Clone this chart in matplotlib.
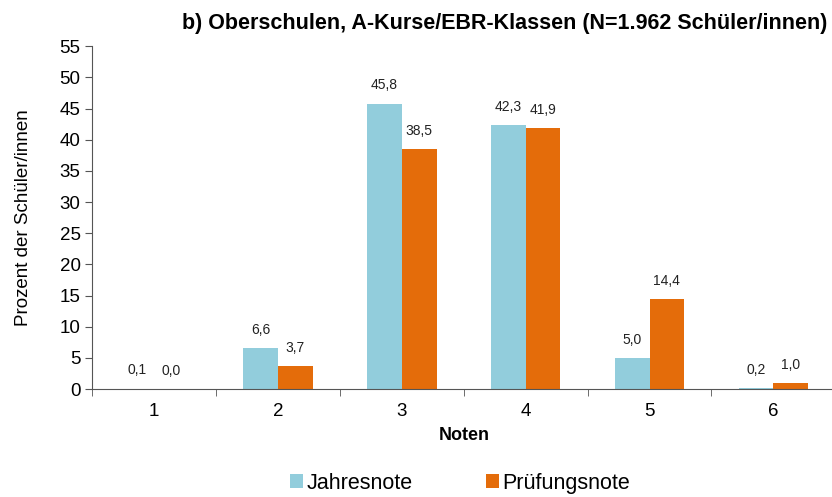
import numpy as np
import matplotlib.pyplot as plt

plt.rcParams['font.family'] = ['Liberation Sans', 'DejaVu Sans']

noten = ['1', '2', '3', '4', '5', '6']
jahresnote = [0.1, 6.6, 45.8, 42.3, 5.0, 0.2]
pruefungsnote = [0.0, 3.7, 38.5, 41.9, 14.4, 1.0]

blue = '#92CDDC'
orange = '#E46C0A'

fig = plt.figure(figsize=(8.32, 4.97), dpi=100)
ax = fig.add_axes([0.111, 0.217, 0.893, 0.690])

x = np.arange(len(noten))
w = 0.28
b1 = ax.bar(x - w / 2, jahresnote, w, color=blue, label='Jahresnote')
b2 = ax.bar(x + w / 2, pruefungsnote, w, color=orange, label='Prüfungsnote')

# Werte über den Balken, mit Dezimalkomma
for bars in (b1, b2):
    for r in bars:
        v = r.get_height()
        ax.annotate(f'{v:.1f}'.replace('.', ','),
                    (r.get_x() + r.get_width() / 2, v),
                    xytext=(0, 8), textcoords='offset points',
                    ha='center', va='bottom', fontsize=10, color='#222222')

ax.set_xlim(-0.5, len(noten) - 0.5)
ax.set_ylim(0, 55)
ax.set_yticks(range(0, 56, 5))
ax.set_xticks(x)
ax.set_xticklabels(noten)
ax.set_xticks(np.arange(-0.5, len(noten), 1), minor=True)
ax.tick_params(axis='x', which='major', length=0, labelsize=13.5, pad=10)
ax.tick_params(axis='x', which='minor', length=5, direction='out', color='#555555')
ax.tick_params(axis='y', length=5, direction='out', labelsize=13.5, color='#555555')

for s in ('top', 'right'):
    ax.spines[s].set_visible(False)
ax.spines['left'].set_color('#555555')
ax.spines['bottom'].set_color('#555555')

ax.set_xlabel('Noten', fontsize=13, fontweight='bold', labelpad=5)
ax.set_ylabel('Prozent der Schüler/innen', fontsize=13.5, labelpad=20)

fig.text(0.995, 0.953, 'b) Oberschulen, A-Kurse/EBR-Klassen (N=1.962 Schüler/innen)',
         ha='right', va='center', fontsize=15.5, fontweight='bold')

fig.legend(loc='center', bbox_to_anchor=(0.553, 0.028), ncol=2, frameon=False,
           fontsize=15.5, handlelength=0.6, handleheight=0.6, columnspacing=3.4,
           handletextpad=0.15)

fig.savefig('out.png', dpi=100)
